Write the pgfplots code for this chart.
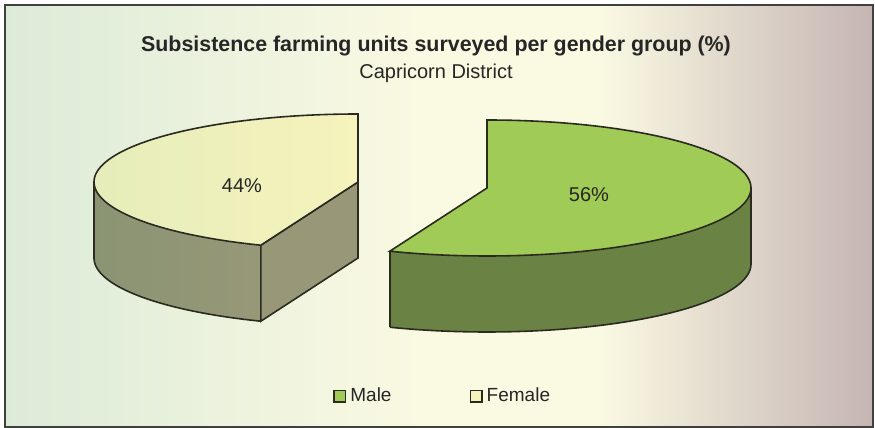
\documentclass[border=0pt]{standalone}
\usepackage{fontspec}
\setmainfont{Liberation Sans}
\usepackage{pgfplots}
\pgfplotsset{compat=1.18}
\usepackage{pgfplotstable}
\usepgfplotslibrary{fillbetween}

\definecolor{maletop}{HTML}{A0CB56}
\definecolor{maleside}{HTML}{6A8243}
\definecolor{femtop}{HTML}{F3F3BB}
\definecolor{femtopl}{HTML}{E6EDBA}
\definecolor{femtopr}{HTML}{F6F3BC}
\definecolor{femsidel}{HTML}{8A9473}
\definecolor{femsider}{HTML}{979878}
\definecolor{femcut}{HTML}{989878}
\definecolor{edge}{HTML}{2A2A20}
\definecolor{bgl}{HTML}{DCEBD8}
\definecolor{bgm}{HTML}{FAF9E2}
\definecolor{bgr}{HTML}{C5B5B3}
\definecolor{framecol}{HTML}{404040}
\definecolor{txt}{HTML}{262626}

\pgfplotsset{boxlegend/.style={legend image code/.code={%
    \draw[##1] (0pt,-2.9pt) rectangle (5.8pt,2.9pt);}}}

% shares in percent
\pgfplotstableread{
gender share
Male   56
Female 44
}\shares
\pgfplotstablegetelem{0}{share}\of\shares \let\maleshare\pgfplotsretval
\pgfplotstablegetelem{1}{share}\of\shares \let\femshare\pgfplotsretval

% pie geometry, in pixels of the 875x428 picture
\def\rx{264}\def\ry{68}\def\dep{76}
\def\mx{487}\def\my{188}
\def\fx{358}\def\fy{182}

\begin{document}
\begin{tikzpicture}
\pgfmathsetmacro\mend{90-3.6*\maleshare}
\pgfmathsetmacro\fend{90+3.6*\femshare}
\pgfmathsetmacro\fpx{\fx+\rx*cos(\fend)}
\pgfmathsetmacro\fpy{\fy-\ry*sin(\fend)}
\pgfmathsetmacro\fpyb{\fpy+\dep}
\pgfmathsetmacro\fyb{\fy+\dep}
\pgfmathsetmacro\fleft{\fx-\rx}
\pgfmathsetmacro\mpx{\mx+\rx*cos(\mend)}
\pgfmathsetmacro\mpy{\my-\ry*sin(\mend)}
\pgfmathsetmacro\mpyb{\mpy+\dep}
\pgfmathsetmacro\mright{\mx+\rx}
\pgfmathsetmacro\myb{\my+\dep}
\begin{axis}[
    set layers=standard,
    fill between/on layer=main,
    scale only axis,
    width=437.5pt,height=214pt,
    xmin=0,xmax=875,ymin=0,ymax=428,
    y dir=reverse,
    hide axis,clip=false,
    legend columns=2,
    legend style={at={(0.507,0.074)},anchor=center,draw=none,fill=none,
        font=\fontsize{9.5}{11}\selectfont,text=txt,
        /tikz/every even column/.append style={column sep=37pt}},
]
% background
\begin{pgfonlayer}{axis background}
\fill[white] (0,0) rectangle (875,428);
\fill[left color=bgl,right color=bgm] (5,5) rectangle (420,427);
\fill[bgm] (419,5) rectangle (601,427);
\fill[left color=bgm,right color=bgr] (600,5) rectangle (873,427);
\draw[framecol,line width=0.9pt] (5,5) rectangle (873,427);
\end{pgfonlayer}

% Female slice: curved side, cut face, top
\addplot[forget plot,draw=none,name path=ft,domain=180:\fend,samples=60]
    ({\fx+\rx*cos(x)},{\fy-\ry*sin(x)});
\addplot[forget plot,draw=none,name path=fb,domain=180:\fend,samples=60]
    ({\fx+\rx*cos(x)},{\fy+\dep-\ry*sin(x)});
\addplot[forget plot,left color=femsidel,right color=femsider]
    fill between[of=ft and fb];
\addplot[forget plot,edge,line width=0.8pt,domain=180:\fend,samples=60]
    ({\fx+\rx*cos(x)},{\fy+\dep-\ry*sin(x)});
\addplot[forget plot,edge,line width=0.8pt] coordinates {(\fleft,\fy) (\fleft,\fyb)};
\addplot[forget plot,fill=femcut,draw=edge,line width=0.8pt]
    coordinates {(\fx,\fy) (\fpx,\fpy) (\fpx,\fpyb) (\fx,\fyb)} -- cycle;
\addplot[forget plot,left color=femtopl,right color=femtopr,draw=edge,
    line width=0.8pt,domain=90:\fend,samples=100]
    ({\fx+\rx*cos(x)},{\fy-\ry*sin(x)}) -- (\fx,\fy) -- cycle;

% Male slice: curved side, top
\addplot[forget plot,draw=none,name path=mt,domain=\mend:0,samples=80]
    ({\mx+\rx*cos(x)},{\my-\ry*sin(x)});
\addplot[forget plot,draw=none,name path=mb,domain=\mend:0,samples=80]
    ({\mx+\rx*cos(x)},{\my+\dep-\ry*sin(x)});
\addplot[forget plot,fill=maleside] fill between[of=mt and mb];
\addplot[forget plot,edge,line width=0.8pt,domain=\mend:0,samples=80]
    ({\mx+\rx*cos(x)},{\my+\dep-\ry*sin(x)});
\addplot[forget plot,edge,line width=0.8pt] coordinates {(\mpx,\mpy) (\mpx,\mpyb)};
\addplot[forget plot,edge,line width=0.8pt] coordinates {(\mright,\my) (\mright,\myb)};
\addplot[forget plot,fill=maletop,draw=edge,line width=0.8pt,domain=\mend:90,samples=120]
    ({\mx+\rx*cos(x)},{\my-\ry*sin(x)}) -- (\mx,\my) -- cycle;

% labels
\node[text=txt,font=\fontsize{10}{12}\selectfont] at (242,186) {\femshare\%};
\node[text=txt,font=\fontsize{10}{12}\selectfont] at (589,195) {\maleshare\%};
\node[text=txt,font=\fontsize{10.7}{12}\selectfont\bfseries] at (436,46)
    {Subsistence farming units surveyed per gender group (\%)};
\node[text=txt,font=\fontsize{10}{12}\selectfont] at (436,73) {Capricorn District};

% legend
\addlegendimage{boxlegend,fill=maletop,draw=edge,line width=0.8pt}
\addlegendentry{Male}
\addlegendimage{boxlegend,fill=femtop,draw=edge,line width=0.8pt}
\addlegendentry{Female}
\end{axis}
\end{tikzpicture}
\end{document}
